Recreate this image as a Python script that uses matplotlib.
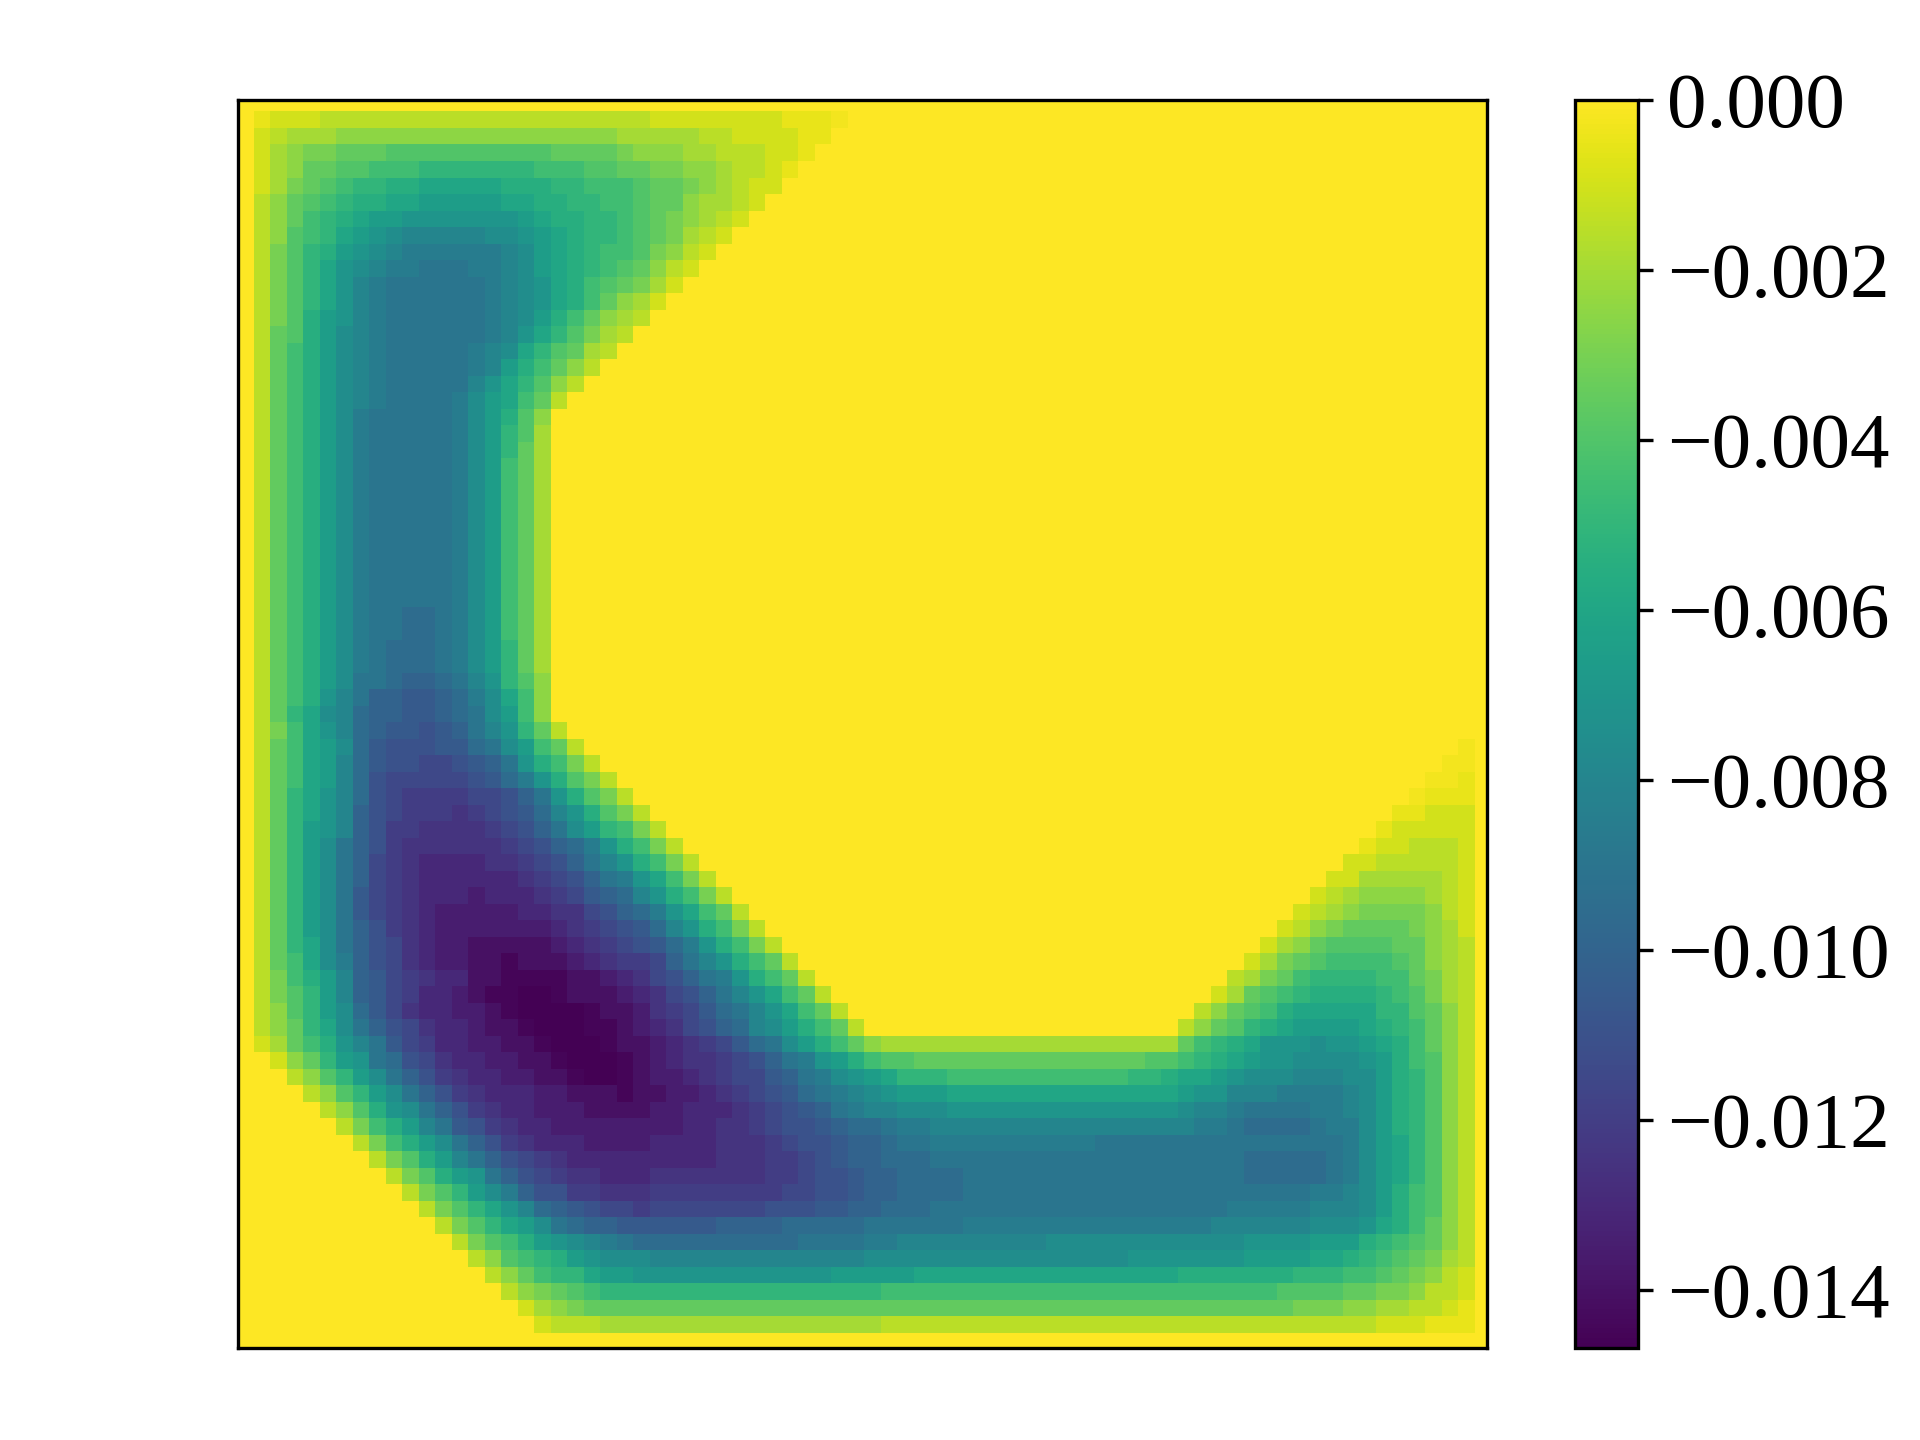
import matplotlib
matplotlib.use("Agg")
import matplotlib.pyplot as plt
import numpy as np

plt.rcParams["font.family"] = ["Liberation Serif", "DejaVu Serif"]

# value read per cell, as steps of 0.0005 below zero ("." is half a step)
LEVEL_CHARS = "0123456789abcdefghijklmnopqrstu"
LEVEL_STEP = 0.0005

LEVEL_ROWS = [
    "0" * 76,
    "01222" + "3" * 20 + "2" * 8 + "111." + "0" * 39,
    "0234445" + "5" * 16 + "4" * 5 + "33" + "2222" + "11" + "0" * 40,
    "024566777" + "8" * 10 + "7777" + "6" + "555" + "44" + "333" + "22" + "1" + "0" * 41,
    "02457788999" + "a" * 7 + "999" + "88" + "77" + "66" + "55" + "4" + "33" + "2" + "1" + "0" * 42,
    "0246789aabb" + "ccccc" + "bbb" + "aa" + "999" + "8" + "77" + "6" + "5" + "4" + "3" + "22" + "0" * 43,
    "035789abbcc" + "ddddd" + "cc" + "bb" + "aa" + "99" + "8" + "77" + "5" + "44" + "3" + "2" + "0" * 44,
    "03579abcdde" + "eeeeee" + "d" + "c" + "bb" + "aa" + "9" + "8765432" + "0" * 45,
    "03589acdefg" + "gggg" + "ff" + "edcb" + "aa" + "9" + "876432" + "0" * 46,
    "0368abdefgh" + "hhhhh" + "g" + "fdcb" + "a" + "99" + "8" + "6532" + "0" * 47,
    "0368acefghh" + "iii" + "hh" + "gfdcb" + "a987532" + "0" * 48,
    "0368aceghii" + "iii" + "i" + "hgfecb" + "987642" + "0" * 49,
    "0368aceghii" + "iii" + "i" + "hgfecb" + "97542" + "0" * 50,
    "0368bdeghii" + "ii" + "ii" + "hgfdb9" + "7543" + "0" * 51,
    "0378bdfghii" + "ii" + "ii" + "hgeca8" + "643" + "0" * 52,
    "0379bdfghii" + "ii" + "i" + "h" + "g" + "f" + "ca87" + "43" + "0" * 53,
    "0379bdfghii" + "ii" + "i" + "h" + "g" + "d" + "b975" + "3" + "0" * 54,
    "0379bdfghii" + "ii" + "i" + "g" + "e" + "c" + "a" + "8" + "5" + "3" + "0" * 55,
    "0379bdfghii" + "iihfdc973" + "0" * 56,
    "0379bdfhiii" + "iihfdb85" + "0" * 57,
    "0379bdfhiii" + "iihfda84" + "0" * 57,
    "0379bdfhiii" + "iihfda74" + "0" * 57,
    "0379bdfhiii" + "iihfd974" + "0" * 57,
    "0379bdfhiii" + "iihfd974" + "0" * 57,
    "0379bdfhiii" + "iihfd974" + "0" * 57,
    "0379bdfhiii" + "iihfd974" + "0" * 57,
    "0379bdfhiii" + "iihfd974" + "0" * 57,
    "0379bdfhiii" + "iihfd974" + "0" * 57,
    "0379bdfhiii" + "iihfd974" + "0" * 57,
    "0379bdfhiii" + "iihfd974" + "0" * 57,
    "0379bdfhiii" + "iihfd974" + "0" * 57,
    "0379bdfhiij" + "jihfd974" + "0" * 57,
    "0379bdfhiij" + "jihfd974" + "0" * 57,
    "0379bdfhijj" + "jihfda74" + "0" * 57,
    "0379bdfhijj" + "jihfda74" + "0" * 57,
    "0379bdfiijk" + "kjigea85" + "0" * 57,
    "0379begikkl" + "lkjhfc95" + "0" * 57,
    "037acfgjkkl" + "lkjifd95" + "0" * 57,
    "0369cegjkll" + "mlkigea73" + "0" * 56,
    "0379cdfjlmm" + "mlljifd973" + "0" * 53 + ".0",
    "0379cdgjlmm" + "nnmlkieb963" + "0" * 51 + "..0",
    "0379cdgjmnn" + "nnnmljheb863" + "0" * 49 + "..10",
    "037acegjmno" + "ooonnmkieb863" + "0" * 47 + ".1110",
    "037acegkmno" + "ooponmljgeb863" + "0" * 45 + "112220",
    "037adegkmoo" + "ppppo" + "nmkifda963" + "0" * 43 + "1222220",
    "037adfikmop" + "ppppponmkjheb963" + "0" * 41 + "12233320",
    "037adfiknop" + "qqqqpponmkigeb963" + "0" * 39 + "223333320",
    "037adfiknop" + "qqqqqqponmkihec963" + "0" * 37 + "2244444320",
    "037adfilnop" + "qqqrqqqponlkjgeb963" + "0" * 35 + "23455554320",
    "037adfilnop" + "qrrrrrqqppnmkjhec973" + "0" * 33 + "234566665320",
    "037adfikmop" + "qrrrrrrrqponmljgeb963" + "0" * 31 + "2356777765420",
    "037acfikmnp" + "qrrsssssrqponmljheb963" + "0" * 29 + "24578888775430",
    "0379cfhkmnp" + "qrrsstsssrqpoonkigeb973" + "0" * 27 + "246789999875430",
    "0369bdgklno" + "pqqssttttssrqpnmkiheb973" + "0" * 25 + "34679aaaa9976430",
    "0368adgklno" + "qqrsttuutsssrqpnmkigec973" + "0" * 23 + "24789abbbba986430",
    "0358adfjlnp" + "qqrrstuuuutssrponljigec973" + "0" * 21 + "35789bcccccaa87530",
    "0357acfikmn" + "pqqrsstuuuttsrqpnmkjgfdb973" + "0" * 19 + "3578abcddddcba97530",
    "0" + "2479begilnoqqrrsstuuutss" + "rqponljifdb975" + "4" * 18 + "79abceeefeedcb9753" + "0",
    "00" + "257adeijmnpqqrrsstuuuts" + "rqpponmkihedb988777" + "7" * 11 + "88" + "9abcdeeffffedb9853" + "0",
    "000" + "358adfikmopqqrrsstuuts" + "rrqponnlkihfedcaaa9" + "9" * 10 + "aab" + "ccdefffgggffdba853" + "0",
    "0000" + "358adfikmopqqqrrsssts" + "srrqponmljihgfedddc" + "c" * 13 + "deeggghhhhgfdba853" + "0",
    "00000" + "358befikmopqqrrrssss" + "rrqqqponmlkihggfffe" + "e" * 13 + "fgghiiiihhgfdba853" + "0",
    "0" * 6 + "369bdgilmopqqrrrrrr" + "rrqqppo" + "nmml" + "kjji" + "hhgg" + "g" * 13 + "ghhijjjjihhfdba853" + "0",
    "0" * 7 + "369bdfikmopqqqrrrr" + "qqqqpppo" + "nmml" + "kkji" + "ihh" + "h" * 8 + "i" * 14 + "ihfdca853" + "0",
    "0" * 8 + "368bdgikmnopqqqqq" + "qqqqpppoo" + "nml" + "kkjjj" + "ii" + "i" * 17 + "jjjj" + "jihfdca853" + "0",
    "0" * 9 + "368bdeikmnoppqqq" + "p" * 7 + "oonmmlkkjjjj" + "i" * 17 + "jjjj" + "jihfdca853" + "0",
    "0" * 10 + "368adfhkmmooppp" + "o" * 8 + "nnmmlkkjjjj" + "i" * 21 + "hhgfdb9853" + "0",
    "0" * 11 + "368acegjklmnno" + "n" * 7 + "mmmllkkjjjii" + "i" * 16 + "h" * 5 + "gggfdb9853" + "0",
    "0" * 12 + "368acdfijkkll" + "l" * 4 + "k" * 4 + "j" * 5 + "i" * 6 + "h" * 15 + "g" * 6 + "fffecb9753" + "0",
    "0" * 13 + "3689bdefghij" + "j" * 9 + "i" * 4 + "hh" + "g" * 9 + "f" * 12 + "eeee" + "ddd" + "ba98753" + "0",
    "0" * 14 + "3589abdefff" + "g" * 13 + "f" * 16 + "e" * 7 + "dddd" + "cc" + "ba987643" + "0",
    "0" * 15 + "3579aacdde" + "e" * 11 + "d" * 5 + "c" * 16 + "b" * 7 + "aaa99876532" + "0",
    "0" * 16 + "356789aaa" + "a" * 14 + "9" * 24 + "888" + "877665332" + "0",
    "0" * 17 + "2456777" + "7" * 40 + "666" + "55443321" + "0",
    "0" * 18 + "2333" + "4" * 17 + "3" * 30 + "222" + "111" + "0",
    "0" * 76,
]

CBAR_TICKS = [0.000, -0.002, -0.004, -0.006, -0.008, -0.010, -0.012, -0.014]
CBAR_LABELS = ["0.000", "\u22120.002", "\u22120.004", "\u22120.006", "\u22120.008",
               "\u22120.010", "\u22120.012", "\u22120.014"]
VMIN = -0.01468
VMAX = 0.0


def read_levels(rows):
    out = []
    bad = []
    for i, row in enumerate(rows):
        if len(row) != 76:
            bad.append((i, len(row)))
            continue
        vals = []
        for c in row:
            if c == ".":
                vals.append(-0.5 * LEVEL_STEP)
            else:
                vals.append(-LEVEL_CHARS.index(c) * LEVEL_STEP)
        out.append(vals)
    if bad:
        raise ValueError(f"bad rows {bad}")
    return np.array(out)


W, H = 1920, 1440
fig = plt.figure(figsize=(6.4, 4.8), dpi=300)

# pixel boxes measured on the reference
ax = fig.add_axes([238 / W, 1 - 1348 / H, (1487 - 238) / W, (1348 - 99.5) / H])
cax = fig.add_axes([1575 / W, 1 - 1348 / H, (1638 - 1575) / W, (1348 - 99.5) / H])

field = read_levels(LEVEL_ROWS)
im = ax.imshow(field, cmap="viridis", vmin=VMIN, vmax=VMAX,
               interpolation="nearest", aspect="auto")

# the outer cells are cut by the frame
ax.set_xlim(-0.47, 75.227)
ax.set_ylim(75.41, -0.258)
ax.set_xticks([])
ax.set_yticks([])

cb = fig.colorbar(im, cax=cax)
cb.set_ticks(CBAR_TICKS)
cb.set_ticklabels(CBAR_LABELS)
cax.tick_params(labelsize=19)

fig.savefig("out.png", dpi=300)
